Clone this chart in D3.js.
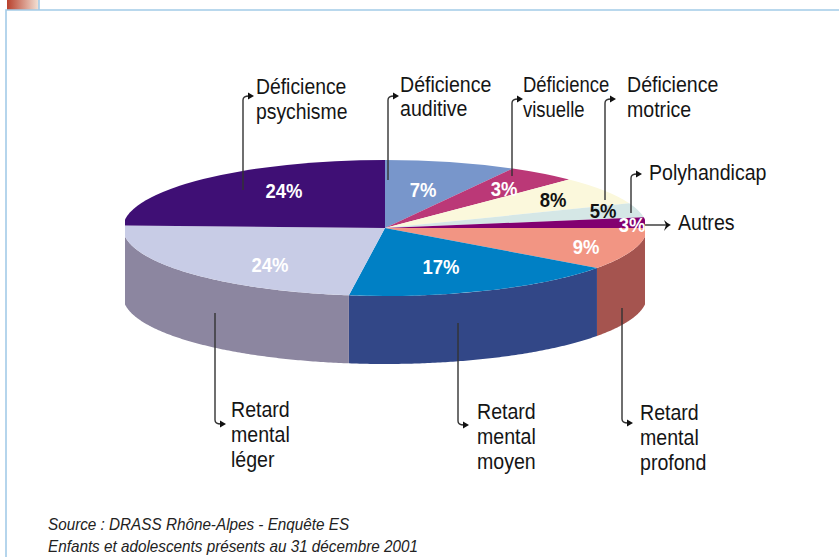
<!DOCTYPE html>
<html>
<head>
<meta charset="utf-8">
<script src="https://cdn.jsdelivr.net/npm/d3@7"></script>
<style>
  html, body { margin: 0; padding: 0; background: #fff; }
  svg { display: block; }
  text { font-family: "Liberation Sans", Arial, sans-serif; fill: #151515; }
</style>
</head>
<body>
<div id="graf"></div>
<script>
// I. Datos (clockwise from the top of the pie)
categorias = ['Déficience auditive', 'Déficience visuelle', 'Déficience motrice',
              'Polyhandicap', 'Autres', 'Retard mental profond',
              'Retard mental moyen', 'Retard mental léger', 'Déficience psychisme']
// parts as drawn in the picture (the printed labels are rounded differently)
parts = [8.1, 4.3, 6.7, 3.4, 2.5, 10, 17.2, 23.4, 24.4]
etiquetas = ['7%', '3%', '8%', '5%', '3%', '9%', '17%', '24%', '24%']
colores = ['#7896cb', '#bb3877', '#fbf8dc', '#d5e7e6', '#820070', '#f29583', '#0080c5', '#c8cce6', '#3f0f75']
lados = ['#54699a', '#83275a', '#b0ad9a', '#95a2a1', '#5b004e', '#a5544f', '#324787', '#8c86a0', '#2c0b52']
fuente = ['Source : DRASS Rhône-Alpes - Enquête ES', 'Enfants et adolescents présents au 31 décembre 2001']

// II. Configuración
ancho_total = 839
alto_total = 557
cx = 385
cy = 228
rx = 262
ry = 68
prof = 68

svg = d3.select('#graf').append('svg')
        .attr('width', ancho_total)
        .attr('height', alto_total)

defs = svg.append('defs')
grad = defs.append('linearGradient').attr('id', 'onglet')
grad.append('stop').attr('offset', '0%').attr('stop-color', '#b8402c')
grad.append('stop').attr('offset', '100%').attr('stop-color', '#f4e4d8')
defs.append('clipPath').attr('id', 'recorte')
    .append('rect').attr('x', 125).attr('y', 100).attr('width', 520).attr('height', 300)

// marco
svg.append('rect').attr('x', 7).attr('y', 0).attr('width', 32).attr('height', 10).attr('fill', 'url(#onglet)')
svg.append('path')
   .attr('d', 'M39,0V10M6,557V10H839')
   .attr('fill', 'none').attr('stroke', '#a3cbe8').attr('stroke-width', 1.6)

// III. Tarta
pie = d3.pie().sort(null).startAngle(0).endAngle(2 * Math.PI)
arcos = pie(parts)
arc = d3.arc().innerRadius(0).outerRadius(rx)

torta = svg.append('g').attr('clip-path', 'url(#recorte)')

ladoArea = d3.area()
             .x(a => cx + rx * Math.sin(a))
             .y0(a => cy - ry * Math.cos(a))
             .y1(a => cy - ry * Math.cos(a) + prof)

torta.selectAll('path.lado')
     .data(arcos.filter(d => d.endAngle > Math.PI / 2 && d.startAngle < 3 * Math.PI / 2))
     .enter().append('path')
     .attr('class', 'lado')
     .attr('fill', d => lados[d.index])
     .attr('d', d => {
       a0 = Math.max(d.startAngle, Math.PI / 2)
       a1 = Math.min(d.endAngle, 3 * Math.PI / 2)
       return ladoArea(d3.range(a0, a1, 0.01).concat([a1]))
     })

torta.append('g')
     .attr('transform', `translate(${cx}, ${cy}) scale(1, ${ry / rx})`)
     .selectAll('path.tapa')
     .data(arcos)
     .enter().append('path')
     .attr('class', 'tapa')
     .attr('fill', d => colores[d.index])
     .attr('d', arc)

// IV. Flechas
flechas = [
  { x: 243, y0: 190, y1: 100 },
  { x: 388, y0: 180, y1: 100 },
  { x: 512, y0: 176, y1: 103 },
  { x: 605, y0: 200, y1: 103 },
  { x: 631, y0: 213, y1: 178 },
  { x: 215, y0: 313, y1: 420 },
  { x: 458, y0: 323, y1: 421 },
  { x: 622, y0: 308, y1: 419 }
]
guias = svg.append('g')
flechas.forEach(f => {
  s = f.y1 < f.y0 ? -1 : 1
  guias.append('path')
       .attr('d', `M${f.x},${f.y0}V${f.y1}Q${f.x},${f.y1 + 4 * s} ${f.x + 6},${f.y1 + 4 * s}`)
       .attr('fill', 'none').attr('stroke', '#333').attr('stroke-width', 1.4)
  guias.append('path')
       .attr('d', `M${f.x + 5},${f.y1 + 4 * s - 3.5}L${f.x + 11},${f.y1 + 4 * s}L${f.x + 5},${f.y1 + 4 * s + 3.5}Z`)
       .attr('fill', '#111')
})
guias.append('path').attr('d', 'M643,225H668').attr('stroke', '#333').attr('stroke-width', 1.4)
guias.append('path').attr('d', 'M664,220Q668,224 671,225Q668,226 664,231L666,225Z').attr('fill', '#111')

// V. Textos
function texto(x, y, t, size, sx) {
  return svg.append('text')
            .attr('transform', `translate(${x}, ${y}) scale(${sx}, 1)`)
            .style('font-size', size + 'px')
            .text(t)
}

nombres = [
  { x: 256, y: [94, 119], t: ['Déficience', 'psychisme'], sx: 0.88 },
  { x: 400, y: [92, 116], t: ['Déficience', 'auditive'], sx: 0.89 },
  { x: 523, y: [92, 117], t: ['Déficience', 'visuelle'], sx: 0.84 },
  { x: 627, y: [92, 117], t: ['Déficience', 'motrice'], sx: 0.89 },
  { x: 649, y: [180], t: ['Polyhandicap'], sx: 0.89 },
  { x: 678, y: [230], t: ['Autres'], sx: 0.89 },
  { x: 231, y: [417, 442, 467], t: ['Retard', 'mental', 'léger'], sx: 0.89 },
  { x: 477, y: [419, 444, 469], t: ['Retard', 'mental', 'moyen'], sx: 0.89 },
  { x: 640, y: [420, 445, 470], t: ['Retard', 'mental', 'profond'], sx: 0.89 }
]
nombres.forEach(n => n.t.forEach((t, i) => texto(n.x, n.y[i], t, 22, n.sx)))

posPct = [[423, 197], [504, 196], [553, 207], [603, 218], [632, 232], [586, 254], [441, 274], [270, 272], [284, 198]]
etiquetas.forEach((e, i) => {
  texto(posPct[i][0], posPct[i][1], e, 21, 0.88)
    .attr('text-anchor', 'middle')
    .style('font-weight', 'bold')
    .style('fill', (i == 2 || i == 3) ? '#111' : '#fff')
})

fuente.forEach((t, i) => {
  texto(48, 530 + i * 22, t, 16, 0.955).style('font-style', 'italic').style('fill', '#222')
})
</script>
</body>
</html>
